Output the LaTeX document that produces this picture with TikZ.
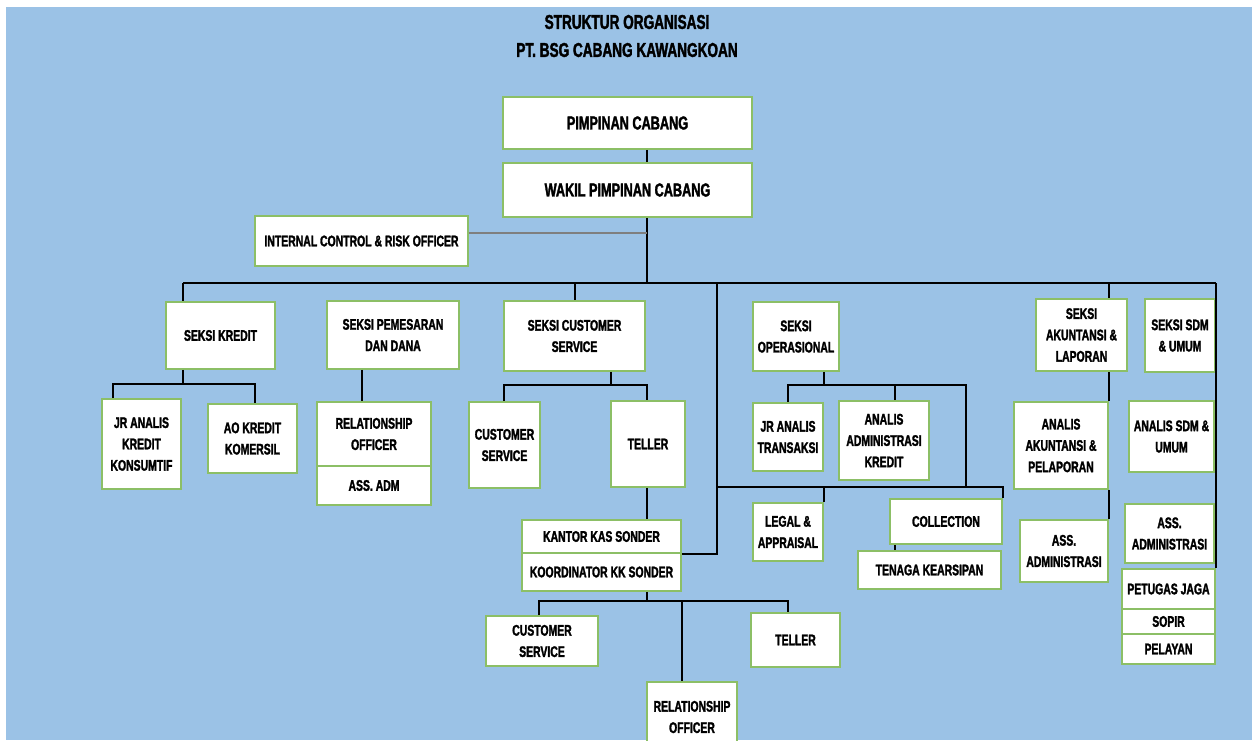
\documentclass[tikz,border=0pt]{standalone}
\usepackage{fontspec}
\setmainfont{Liberation Sans}[FakeStretch=0.68, BoldFont={Liberation Sans Bold}, BoldFeatures={FakeBold=1.8}]
\definecolor{bgblue}{HTML}{9BC2E6}
\definecolor{boxgreen}{HTML}{8CBF66}
\definecolor{linegray}{HTML}{7F7F7F}
\tikzset{
  boxbase/.style={draw=boxgreen, line width=1.3pt, fill=white, align=center,
    inner sep=1.5pt, font=\fontsize{11.5}{16}\selectfont\bfseries},
  bx/.style 2 args={boxbase, minimum width=#1*0.75pt, minimum height=#2*0.75pt},
  bigfont/.style={font=\fontsize{14}{16}\selectfont\bfseries},
  conn/.style={draw=black, line width=1.1pt},
  grayconn/.style={draw=linegray, line width=1.5pt},
  titletext/.style={align=center, font=\fontsize{15}{21}\selectfont\bfseries}
}
\begin{document}
\begin{tikzpicture}[x=0.75pt, y=-0.75pt]
\clip (0,0) rectangle (1256,740);
\fill[white] (0,0) rectangle (1256,740);
\fill[bgblue] (6,7) rectangle (1252,740);

\node[titletext] (title) at (627,36) {STRUKTUR ORGANISASI\\PT. BSG CABANG KAWANGKOAN};

\node[bx={249}{52}, bigfont] (pc) at (627.5,123) {PIMPINAN CABANG};
\node[bx={249}{54}, bigfont] (wpc) at (627.5,190) {WAKIL PIMPINAN CABANG};
\node[bx={213}{50}] (icr) at (361.5,241) {INTERNAL CONTROL \& RISK OFFICER};

\node[bx={109}{67}] (sk) at (220.5,335.5) {SEKSI KREDIT};
\node[bx={132}{68}] (spd) at (393,335) {SEKSI PEMESARAN\\DAN DANA};
\node[bx={141}{70}] (scs) at (574.5,336) {SEKSI CUSTOMER\\SERVICE};
\node[bx={86}{69}] (sop) at (796,336.5) {SEKSI\\OPERASIONAL};
\node[bx={91}{72}] (sak) at (1081.5,335) {SEKSI\\AKUNTANSI \&\\LAPORAN};
\node[bx={70}{73}] (ssdm) at (1180,335.5) {SEKSI SDM\\\& UMUM};

\node[bx={79}{90}] (jrk) at (141.5,444) {JR ANALIS\\KREDIT\\KONSUMTIF};
\node[bx={89}{69}] (aok) at (252.5,438.5) {AO KREDIT\\KOMERSIL};
\node[bx={114}{64}] (ro) at (374,434) {RELATIONSHIP\\OFFICER};
\node[bx={114}{39}] (aadm) at (374,485.5) {ASS. ADM};
\node[bx={71}{86}] (cs) at (504.5,445) {CUSTOMER\\SERVICE};
\node[bx={74}{86}] (tel) at (648,444) {TELLER};
\node[bx={70}{68}] (jrt) at (788,437) {JR ANALIS\\TRANSAKSI};
\node[bx={90}{79}] (aak) at (884,440.5) {ANALIS\\ADMINISTRASI\\KREDIT};
\node[bx={94}{87}] (aap) at (1061,445.5) {ANALIS\\AKUNTANSI \&\\PELAPORAN};
\node[bx={85}{71}] (asdm) at (1171.5,436.5) {ANALIS SDM \&\\UMUM};

\node[bx={159}{33}] (kks) at (601.5,536.5) {KANTOR KAS SONDER};
\node[bx={159}{38}] (kkk) at (601.5,572) {KOORDINATOR KK SONDER};
\node[bx={70}{58}] (legal) at (788,532) {LEGAL \&\\APPRAISAL};
\node[bx={112}{45}] (coll) at (946,521.5) {COLLECTION};
\node[bx={143}{38}] (tk) at (929.5,570) {TENAGA KEARSIPAN};
\node[bx={88}{62}] (aas1) at (1064,551) {ASS.\\ADMINISTRASI};
\node[bx={89}{59}] (aas2) at (1169.5,533.5) {ASS.\\ADMINISTRASI};
\node[bx={93}{40}] (pj) at (1168.5,589) {PETUGAS JAGA};
\node[bx={93}{25}] (sopir) at (1168.5,621.5) {SOPIR};
\node[bx={93}{30}] (pel) at (1168.5,649) {PELAYAN};

\node[bx={112}{50}] (cs2) at (542,641) {CUSTOMER\\SERVICE};
\node[bx={89}{54}] (tel2) at (795.5,640) {TELLER};
\node[bx={90}{70}] (ro2) at (692,717) {RELATIONSHIP\\OFFICER};

% junction coordinates
\coordinate (vx) at (647,283);
\coordinate (icrj) at (647,233);
\coordinate (barL) at (183,283);
\coordinate (barR) at (1216,283);
\coordinate (b2) at (575,283);
\coordinate (b3) at (717,283);
\coordinate (b5) at (1109,283);
\coordinate (j487) at (717,487);
\coordinate (skj) at (183,384);
\coordinate (skL) at (113,384);
\coordinate (skR) at (255,384);
\coordinate (spdx) at (362,0);
\coordinate (csj) at (611,385);
\coordinate (csL) at (504,385);
\coordinate (csR) at (647,385);
\coordinate (opj) at (824,385);
\coordinate (opL) at (788,385);
\coordinate (opM) at (895,385);
\coordinate (opR) at (966,385);
\coordinate (lgx) at (824,0);
\coordinate (ctk) at (895,0);
\coordinate (bj) at (647,601);
\coordinate (bL) at (539,601);
\coordinate (bM) at (682,601);
\coordinate (bR) at (788,601);

\draw[conn] (pc.south -| vx) -- (wpc.north -| vx);
\draw[conn] (wpc.south -| vx) -- (vx);
\draw[grayconn] (icr.east |- icrj) -- (icrj);
\draw[conn] (barL) -- (barR);
\draw[conn] (barL) -- (sk.north -| barL);
\draw[conn] (b2) -- (scs.north -| b2);
\draw[conn] (b3) |- (kks.south east);
\draw[conn] (j487) -| (coll.north east);
\draw[conn] (lgx |- j487) -- (legal.north -| lgx);
\draw[conn] (b5) -- (sak.north -| b5);
\draw[conn] (sak.south -| b5) -- (aap.north -| b5);
\draw[conn] (aap.south -| b5) -- (aas1.north -| b5);
\draw[conn] (barR) -- (pj.north -| barR);
\draw[conn] (sk.south -| skj) -- (skj);
\draw[conn] (jrk.north -| skL) -- (skL) -- (skR) -- (aok.north -| skR);
\draw[conn] (spd.south -| spdx) -- (ro.north -| spdx);
\draw[conn] (scs.south -| csj) -- (csj);
\draw[conn] (cs.north -| csL) -- (csL) -- (csR) -- (tel.north -| csR);
\draw[conn] (tel.south -| csR) -- (kks.north -| csR);
\draw[conn] (sop.south -| opj) -- (opj);
\draw[conn] (jrt.north -| opL) -- (opL) -- (opR) -- (opR |- j487);
\draw[conn] (opM) -- (aak.north -| opM);
\draw[conn] (coll.south -| ctk) -- (tk.north -| ctk);
\draw[conn] (kkk.south -| bj) -- (bj);
\draw[conn] (cs2.north -| bL) -- (bL) -- (bR) -- (tel2.north -| bR);
\draw[conn] (bM) -- (ro2.north -| bM);
\end{tikzpicture}
\end{document}
